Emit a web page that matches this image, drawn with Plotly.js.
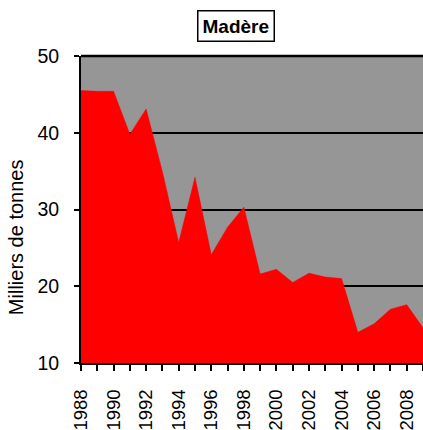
<!DOCTYPE html>
<html>
<head>
<meta charset="utf-8">
<script src="https://cdn.plot.ly/plotly-3.0.1.min.js"></script>
<style>
  html, body { margin: 0; padding: 0; background: #fff; }
  #chart { width: 423px; height: 430px; }
</style>
</head>
<body>
<div id="chart"></div>
<script>
/* --- Data: Madère, milliers de tonnes --- */
const YEARS = [1988, 1989, 1990, 1991, 1992, 1993, 1994, 1995, 1996, 1997, 1998,
               1999, 2000, 2001, 2002, 2003, 2004, 2005, 2006, 2007, 2008, 2009];
const TONNES = [45.5, 45.4, 45.4, 39.8, 43.1, 34.9, 25.7, 34.2, 24.1, 27.7, 30.3,
                21.6, 22.2, 20.5, 21.7, 21.2, 21.0, 14.0, 15.1, 17.0, 17.6, 14.6];
const Y_TICKS = [10, 20, 30, 40, 50];
const X_LABELS = YEARS.map(y => (y % 2 === 0 ? String(y) : ''));

const FONT = 'Liberation Sans, Arial, sans-serif';

const traces = [{
  x: YEARS,
  y: TONNES,
  type: 'scatter',
  mode: 'lines',
  fill: 'tozeroy',
  fillcolor: '#ff0000',
  line: { color: '#ff0000', width: 0.5 },
  hoverinfo: 'x+y',
}];

const layout = {
  width: 423,
  height: 430,
  margin: { l: 81, r: 0, t: 56, b: 67 },
  paper_bgcolor: '#ffffff',
  plot_bgcolor: '#969696',
  font: { family: FONT, size: 19, color: '#000' },
  showlegend: false,
  xaxis: {
    range: [1988, 2009],
    tickvals: YEARS,
    ticktext: X_LABELS,
    tickangle: -90,
    ticks: 'outside',
    ticklen: 6,
    tickwidth: 1.5,
    tickcolor: '#000',
    ticklabelstandoff: 11,
    showgrid: false,
    zeroline: false,
    showline: true,
    linecolor: '#000',
    linewidth: 2,
    tickfont: { family: FONT, size: 18.5, color: '#000' },
  },
  yaxis: {
    range: [10, 50],
    tickvals: Y_TICKS,
    ticks: 'outside',
    ticklen: 5,
    tickwidth: 1.5,
    tickcolor: '#000',
    ticklabelstandoff: 11,
    showgrid: true,
    gridcolor: '#000',
    gridwidth: 2,
    zeroline: false,
    showline: true,
    linecolor: '#000',
    linewidth: 2,
    tickfont: { family: FONT, size: 19.5, color: '#000' },
  },
  shapes: [{
    // top frame line of the plot area
    type: 'line', xref: 'paper', yref: 'paper',
    x0: 0, x1: 1, y0: 1, y1: 1,
    line: { color: '#000', width: 2.5 },
  }],
  annotations: [
    {
      text: '<b>Madère</b>',
      xref: 'paper', yref: 'paper',
      x: 0.453, y: 1.098,
      xanchor: 'center', yanchor: 'middle',
      showarrow: false,
      font: { family: FONT, size: 19, color: '#000' },
      bordercolor: '#000', borderwidth: 1.5, borderpad: 4,
      bgcolor: '#fff',
    },
    {
      text: 'Milliers de tonnes',
      xref: 'paper', yref: 'paper',
      x: -0.19, y: 0.41,
      xanchor: 'center', yanchor: 'middle',
      textangle: -90,
      showarrow: false,
      font: { family: FONT, size: 20, color: '#000' },
    },
  ],
};

Plotly.newPlot('chart', traces, layout, { displayModeBar: false, responsive: false });
</script>
</body>
</html>
